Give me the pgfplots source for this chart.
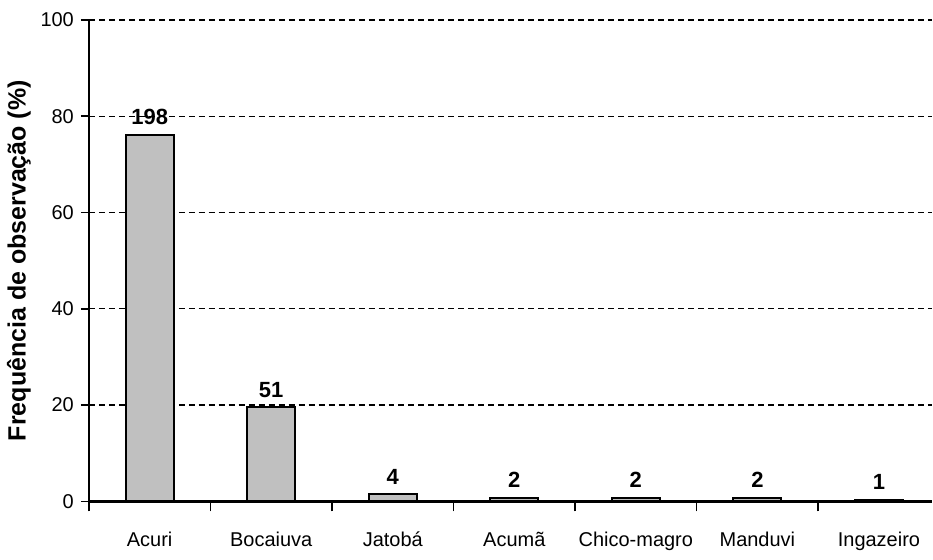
\documentclass[border=0pt]{standalone}
\usepackage{pgfplots}
\pgfplotsset{compat=1.18}
\usepackage{fontspec}
\setmainfont{Liberation Sans}
\definecolor{barg}{RGB}{192,192,192}
\begin{document}
\begin{tikzpicture}
\begin{axis}[
 width=422pt, height=241pt, scale only axis,
 xmin=-0.5, xmax=6.435, ymin=0, ymax=100,
 axis x line*=bottom, axis y line*=left,
 axis line style={line width=1.2pt, black},
 ytick={0,20,...,100},
 ymajorgrids, grid style={dash pattern=on 3pt off 2pt, black, line width=0.6pt},
 xtick={0,...,6},
 xticklabels={Acuri,Bocaiuva,Jatobá,Acumã,Chico-magro,Manduvi,Ingazeiro},
 x tick style={draw=none},
 extra x ticks={-0.5,0.5,...,5.5},
 extra x tick labels={},
 extra x tick style={grid=none, major tick length=5pt, x tick style={draw=black, line width=0.8pt}},
 tick align=outside, y tick style={black, line width=0.8pt}, major tick length=4pt,
 ylabel={\bfseries Frequência de observação (\%)},
 ylabel style={font=\fontsize{12.5}{14}\selectfont, yshift=-2pt},
 /pgf/number format/assume math mode=true,
 tick label style={font=\fontsize{10}{12}\selectfont},
 xticklabel style={text height=8pt, text depth=2pt, yshift=-7pt},
]
\addplot[ybar, bar width=24pt, fill=barg, draw=black, line width=1pt,
  nodes near coords, point meta=explicit symbolic,
  every node near coord/.append style={font=\fontsize{11}{13}\selectfont\bfseries, black, yshift=1pt}]
  table[meta=n] {
x y n
0 76.15 198
1 19.62 51
2 1.54 4
3 0.77 2
4 0.77 2
5 0.77 2
6 0.38 1
};
\end{axis}
\path ([xshift=-44.5pt,yshift=-22pt]current axis.south west) rectangle ([yshift=10pt]current axis.north east);
\end{tikzpicture}
\end{document}
